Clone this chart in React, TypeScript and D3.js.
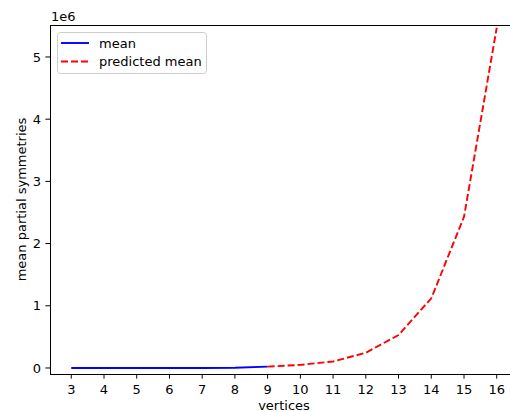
import React from 'react';
import * as d3 from 'd3';

// x ticks / categories
const vertices = [3, 4, 5, 6, 7, 8, 9, 10, 11, 12, 13, 14, 15, 16];

// measured mean (blue, solid)
const meanVertices = [3, 4, 5, 6, 7, 8, 9];
const meanValues = [2, 6, 24, 110, 600, 3800, 22000];

// predicted mean (red, dashed)
const predictedVertices = [9, 10, 11, 12, 13, 14, 15, 16];
const predictedValues = [22000, 50000, 105000, 245000, 530000, 1120000, 2430000, 5470000];

const yTicks = [0, 1e6, 2e6, 3e6, 4e6, 5e6];

const W = 510;
const H = 412;
const left = 50;
const right = 518;
const top = 25;
const bottom = 374;
const font = 'DejaVu Sans, sans-serif';

export default function App() {
  const x = d3.scaleLinear().domain([2.35, 16.65]).range([left, right]);
  const y = d3.scaleLinear().domain([-0.0965e6, 5.514e6]).range([bottom, top]);

  const line = d3
    .line<[number, number]>()
    .x((d) => x(d[0]))
    .y((d) => y(d[1]));

  const meanPts = meanVertices.map((v, i) => [v, meanValues[i]] as [number, number]);
  const predPts = predictedVertices.map((v, i) => [v, predictedValues[i]] as [number, number]);

  return (
    <svg
      width={W}
      height={H}
      style={{ position: 'absolute', left: 0, top: 0, background: '#fff' }}
      fontFamily={font}
    >
      <defs>
        <clipPath id="plot">
          <rect x={left} y={top} width={right - left} height={bottom - top} />
        </clipPath>
      </defs>

      <g clipPath="url(#plot)" fill="none">
        <path d={line(meanPts) || ''} stroke="#0000ff" strokeWidth={1.9} />
        <path
          d={line(predPts) || ''}
          stroke="#ff0000"
          strokeWidth={1.9}
          strokeDasharray="7,3"
        />
      </g>

      {/* spines */}
      <g stroke="#000" strokeWidth={1} fill="none">
        <line x1={left + 0.5} x2={left + 0.5} y1={top} y2={bottom + 0.5} />
        <line x1={left} x2={W} y1={bottom + 0.5} y2={bottom + 0.5} />
        <line x1={left} x2={W} y1={top + 0.5} y2={top + 0.5} />
      </g>

      {/* x axis */}
      <g fontSize={13} textAnchor="middle" fill="#000">
        {vertices.map((v) => (
          <g key={v} transform={`translate(${x(v)},0)`}>
            <line y1={bottom} y2={bottom + 4.6} stroke="#000" strokeWidth={1} />
            <text y={394}>{v}</text>
          </g>
        ))}
      </g>
      <text x={(left + right) / 2} y={410} fontSize={13} textAnchor="middle">
        vertices
      </text>

      {/* y axis */}
      <g fontSize={13} textAnchor="end" fill="#000">
        {yTicks.map((t) => (
          <g key={t} transform={`translate(0,${y(t)})`}>
            <line x1={left - 4.6} x2={left} stroke="#000" strokeWidth={1} />
            <text x={41} dy="0.36em">
              {t / 1e6}
            </text>
          </g>
        ))}
      </g>
      <text x={51} y={21} fontSize={13}>
        1e6
      </text>
      <text
        transform={`translate(26,${(top + bottom) / 2}) rotate(-90)`}
        fontSize={13}
        textAnchor="middle"
      >
        mean partial symmetries
      </text>

      {/* legend */}
      <g>
        <rect
          x={57.5}
          y={32.5}
          width={149}
          height={41}
          rx={3}
          fill="#fff"
          fillOpacity={0.8}
          stroke="#cccccc"
          strokeWidth={1}
        />
        <line x1={61} x2={89} y1={43} y2={43} stroke="#0000ff" strokeWidth={1.9} />
        <text x={99} y={43} dy="0.36em" fontSize={13}>
          mean
        </text>
        <line
          x1={61}
          x2={89}
          y1={61.5}
          y2={61.5}
          stroke="#ff0000"
          strokeWidth={1.9}
          strokeDasharray="7,3"
        />
        <text x={99} y={61.5} dy="0.36em" fontSize={13}>
          predicted mean
        </text>
      </g>
    </svg>
  );
}
